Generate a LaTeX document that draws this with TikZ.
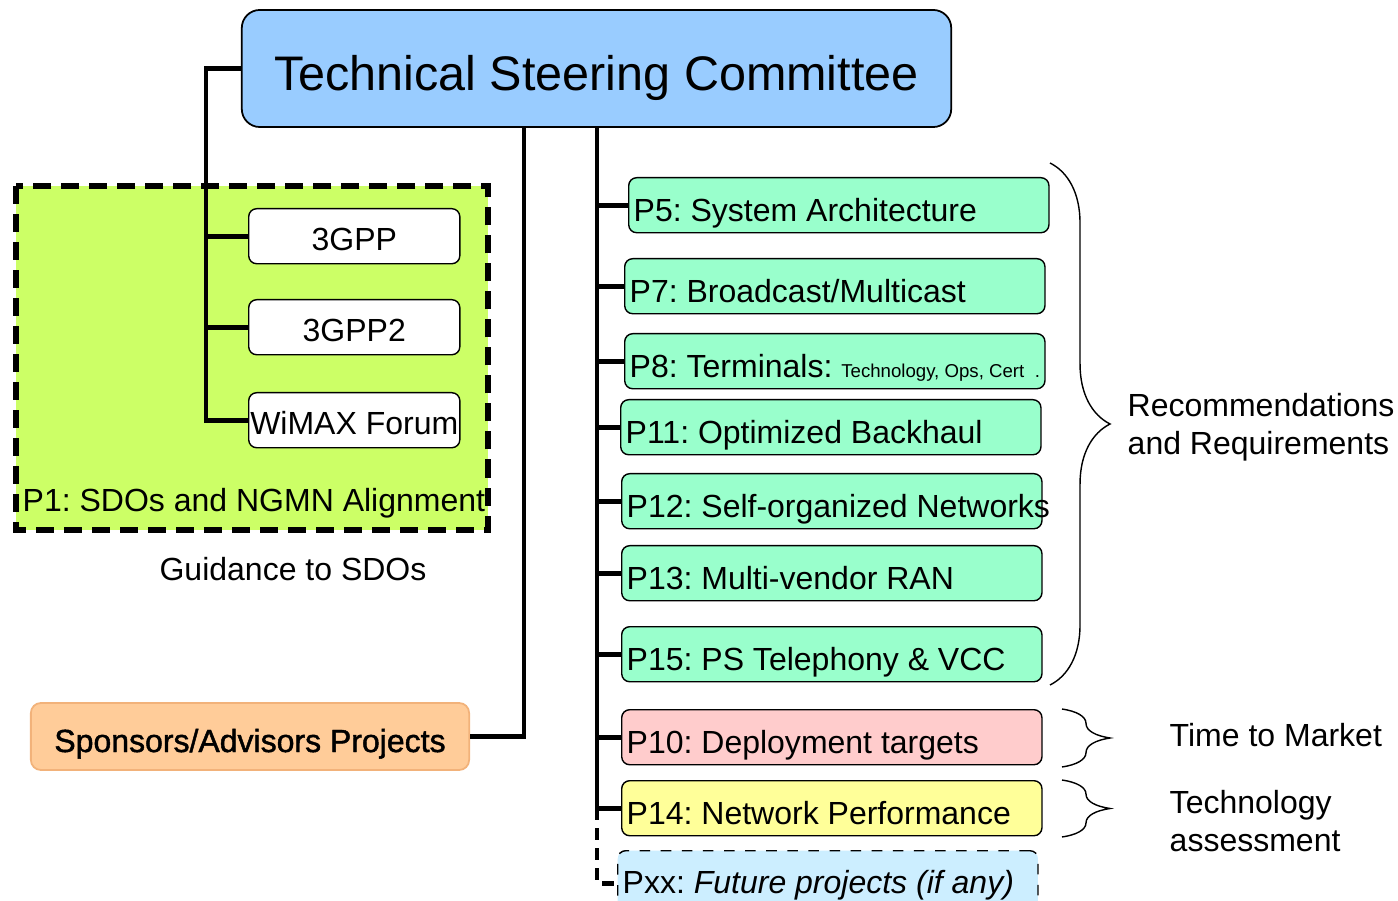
\documentclass[tikz,border=0pt]{standalone}
\usepackage{fontspec}
\setmainfont{Liberation Sans}
\newfontfamily\heavyfont[FakeBold=1.4]{Liberation Sans}
\usetikzlibrary{positioning,decorations.pathreplacing}
\frenchspacing

\definecolor{tscblue}{HTML}{99CCFF}
\definecolor{sdogreen}{HTML}{CCFF66}
\definecolor{projgreen}{HTML}{99FFCC}
\definecolor{projred}{HTML}{FFCCCC}
\definecolor{projyellow}{HTML}{FFFF99}
\definecolor{projblue}{HTML}{CCEEFF}
\definecolor{sponsorfill}{HTML}{FFCC99}
\definecolor{sponsorline}{HTML}{F2B27A}

\newcommand{\normtext}{\fontsize{9.1}{10.8}\selectfont}
\newcommand{\ptxt}[1]{\makebox[4.1cm][l]{#1}}

\tikzset{
  conn/.style={line width=1.4pt},
  projbox/.style={draw, line width=0.4pt, rounded corners=0.08cm, anchor=north west,
    minimum height=0.55cm, inner xsep=0.05cm, inner ysep=0pt, text height=0.33cm, text depth=0pt, font=\normtext},
  sdobox/.style={draw, fill=white, line width=0.4pt, rounded corners=0.08cm, anchor=north west,
    minimum width=2.11cm, minimum height=0.55cm, inner sep=0pt, text height=0.29cm, text depth=0pt, font=\normtext},
  bigbrace/.style={decorate, decoration={brace, amplitude=0.6cm}, line width=0.4pt},
  smallbrace/.style={decorate, decoration={brace, amplitude=0.48cm}, line width=0.4pt},
}

\begin{document}
\begin{tikzpicture}[x=0.01cm, y=-0.01cm]
\useasboundingbox (0,0) rectangle (1398,901);

% Committee on top
\node[draw, fill=tscblue, line width=0.5pt, rounded corners=0.18cm, minimum width=7.09cm, minimum height=1.17cm,
  text height=0.43cm, text depth=0pt, font=\fontsize{13.8}{16}\selectfont] (tsc) at (596.5,68.5) {Technical Steering Committee};

% P1 area with the SDOs
\filldraw[fill=sdogreen, line width=1.7pt, dash pattern=on 0.18cm off 0.1cm] (16,186) rectangle (488,530);
\node[anchor=west, inner sep=0pt, font=\normtext] (p1) at (22,503) {P1: SDOs and NGMN Alignment};
\node[font=\normtext] (guide) at (293,569) {Guidance to SDOs};

\node[sdobox] (gpp) at (248,208) {3GPP};
\node[sdobox] (gpptwo) at (248,299) {3GPP2};
\node[sdobox] (wimax) at (248,392) {WiMAX Forum};

\coordinate (lt) at (206,68.5);
\draw[conn] (tsc.west) -- (lt) |- (wimax.west);
\draw[conn] (lt |- gpp.west) -- (gpp.west);
\draw[conn] (lt |- gpptwo.west) -- (gpptwo.west);

% Sponsors
\node[draw=sponsorline, fill=sponsorfill, line width=0.5pt, rounded corners=0.1cm, minimum width=4.38cm, minimum height=0.67cm,
  text height=0.31cm, text depth=0pt, font=\heavyfont\normtext] (sponsor) at (250,736.5) {Sponsors/Advisors Projects};
\coordinate (st) at (524,127);
\draw[conn] (st) |- (sponsor.east);

% Projects
\node[projbox, fill=projgreen] (p5) at (628,177) {\ptxt{P5: System Architecture}};
\node[projbox, fill=projgreen] (p7) at (624,258) {\ptxt{P7: Broadcast/Multicast}};
\node[projbox, fill=projgreen] (p8) at (624,333) {\ptxt{P8: Terminals: {\fontsize{5.3}{6}\selectfont Technology, Ops, Cert\hskip0pt plus 1fill.}}};
\node[projbox, fill=projgreen] (p11) at (620,399) {\ptxt{P11: Optimized Backhaul}};
\node[projbox, fill=projgreen] (p12) at (621,473) {\ptxt{P12: Self-organized Networks}};
\node[projbox, fill=projgreen] (p13) at (621,545) {\ptxt{P13: Multi-vendor RAN}};
\node[projbox, fill=projgreen] (p15) at (621,626) {\ptxt{P15: PS Telephony \& VCC}};
\node[projbox, fill=projred] (p10) at (621,709) {\ptxt{P10: Deployment targets}};
\node[projbox, fill=projyellow] (p14) at (621,780) {\ptxt{P14: Network Performance}};
\node[projbox, fill=projblue, dashed, minimum height=0.65cm, text height=0.21cm] (pxx) at (617,850) {\ptxt{Pxx: \textit{Future projects (if any)}}};

\coordinate (rt) at (597,127);
\draw[conn] (rt) |- (p14.west);
\foreach \p in {p5,p7,p8,p11,p12,p13,p15,p10}
  \draw[conn] (rt |- \p.west) -- (\p.west);
\draw[conn, dash pattern=on 3.4pt off 2.3pt] (rt |- p14.west) |- (pxx.west);

% Braces and what they mean
\draw[bigbrace] (1050,163) -- (1050,685);
\draw[smallbrace] (1062,709) -- (1062,767);
\draw[smallbrace] (1062,780) -- (1062,837);

\node[anchor=west, align=left, font=\normtext, inner sep=0pt] (recreq) at (1127,427) {Recommendations\\and Requirements};
\node[anchor=west, font=\normtext, inner sep=0pt] (ttm) at (1169,735) {Time to Market};
\node[anchor=west, align=left, font=\normtext, inner sep=0pt] (techass) at (1169,821) {Technology\\assessment};
\end{tikzpicture}
\end{document}
